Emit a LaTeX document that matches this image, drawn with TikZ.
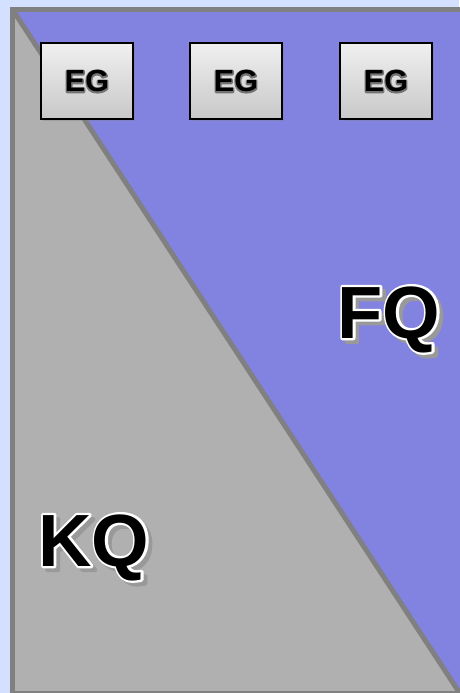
\documentclass[tikz,border=0pt]{standalone}
\usepackage{fontspec}
\setmainfont{Liberation Sans}
\usetikzlibrary{shadows}
\definecolor{bgblue}{RGB}{212,224,255}
\definecolor{fieldblue}{RGB}{130,130,224}
\definecolor{fieldgray}{RGB}{176,176,176}
\definecolor{edgegray}{RGB}{128,128,128}
\definecolor{boxtop}{RGB}{240,240,240}
\definecolor{boxbot}{RGB}{200,200,200}
\tikzset{
  egbox/.style={draw=black, line width=1.2pt, minimum width=92pt, minimum height=76pt,
    top color=boxtop, bottom color=boxbot,
    drop shadow={shadow xshift=2pt, shadow yshift=-2pt, opacity=0.35}},
  eglabel/.style={font=\fontsize{30.5}{30.5}\selectfont\bfseries, anchor=base, inner sep=0pt},
  biglabel/.style={font=\fontsize{74}{74}\selectfont\bfseries, anchor=base, inner sep=0pt}
}
% text drawn filled and stroked: #1 stroke width, #2 stroke rgb, #3 text
\newcommand\strk[3]{\special{pdf:literal direct 2 Tr #1 w 1 j #2 RG}#3\special{pdf:literal direct 0 Tr}}
\begin{document}
\begin{tikzpicture}[x=1pt,y=-1pt]
\useasboundingbox (0,0) rectangle (459,693);
\fill[bgblue] (0,0) rectangle (459,693);
% fields
\fill[fieldblue] (12.5,9.5) -- (470,9.5) -- (470,700) -- (458,700) -- cycle;
\fill[fieldgray] (12.5,9.5) -- (458,693) -- (12.5,700) -- cycle;
\coordinate (tl) at (12.5,9.5);
\coordinate (br) at (459,692);
\draw[edgegray, line width=5pt] (tl) -- (br);
\draw[edgegray, line width=5pt] (470,9.5) -- (tl) -- (12.5,693.5) -- (470,693.5);
% boxes
\node[egbox] (b1) at (87,81) {};
\node[egbox] (b2) at (236,81) {};
\node[egbox] (b3) at (386,81) {};
\foreach \b in {b1,b2,b3}{
  \node[eglabel, text=black] (\b t) at ([yshift=-11pt]\b.center) {\strk{2.6}{0.45 0.45 0.45}{EG}};
  \node[eglabel] at (\b t.base) {EG};
}
% big labels
\coordinate (fqp) at (389,338);
\coordinate (fqs) at (393,342);
\coordinate (kqp) at (94,566);
\coordinate (kqs) at (98,570);
\node[biglabel, text=black!40] at (fqs) {\strk{4}{0.6 0.6 0.6}{FQ}};
\node[biglabel, text=black] (fq) at (fqp) {\strk{4.6}{1 1 1}{FQ}};
\node[biglabel] at (fqp) {FQ};
\node[biglabel, text=black!40] at (kqs) {\strk{4}{0.6 0.6 0.6}{KQ}};
\node[biglabel, text=black] (kq) at (kqp) {\strk{4.6}{1 1 1}{KQ}};
\node[biglabel] at (kqp) {KQ};
\end{tikzpicture}
\end{document}
